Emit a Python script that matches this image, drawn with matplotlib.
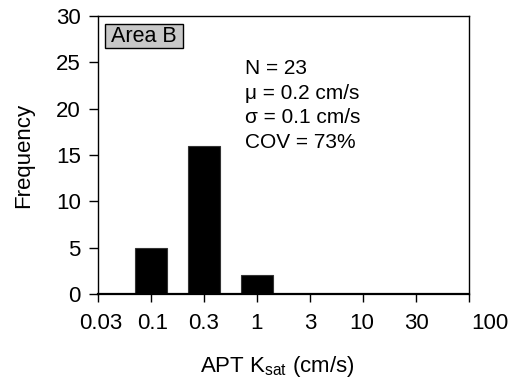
import numpy as np
import matplotlib
matplotlib.use('Agg')
import matplotlib.pyplot as plt
from matplotlib.patches import Rectangle
import matplotlib.transforms as mtransforms

# histogram data (APT Ksat, Area B)
binCenters = [0.1, 10**-0.5, 1.0]
counts = [5, 16, 2]
tickPos = 10**np.arange(-1.5, 2.01, 0.5)
tickLabels = ['0.03', '0.1', '0.3', '1', '3', '10', '30', '100']
statLines = ['N = 23', '\u03bc = 0.2 cm/s', '\u03c3 = 0.1 cm/s', 'COV = 73%']
areaName = 'Area B'

plt.rcParams['font.family'] = ['Liberation Sans', 'DejaVu Sans']
plt.rcParams['font.size'] = 16

fig = plt.figure(figsize=(5.14, 3.85), dpi=100)
ax = fig.add_axes([98/514, 1-294/385, 371/514, 278/385])

halfW = 0.155
lefts = [c * 10**-halfW for c in binCenters]
widths = [c * (10**halfW - 10**-halfW) for c in binCenters]
ax.bar(lefts, counts, width=widths, align='edge', color='black', edgecolor='#333333', linewidth=0.8)

ax.set_xscale('log')
ax.set_xlim(tickPos[0], tickPos[-1])
ax.set_ylim(0, 30)
ax.set_xticks(tickPos)
ax.set_xticklabels(tickLabels)
ax.minorticks_off()
ax.set_yticks(range(0, 31, 5))

ax.tick_params(axis='x', direction='out', length=6, width=1, pad=8, labelsize=16)
ax.tick_params(axis='y', direction='out', length=6.5, width=1, pad=6, labelsize=16)
for sp in ax.spines.values():
    sp.set_linewidth(1.0)
ax.spines['bottom'].set_linewidth(1.6)

# shift some tick labels like the original
shifts = {0: 3, 1: 1.5, 5: -1.5, 7: 21}
labs = ax.get_xticklabels()
for i, dx in shifts.items():
    labs[i].set_transform(labs[i].get_transform() + mtransforms.ScaledTranslation(dx/100, 0, fig.dpi_scale_trans))

ax.set_ylabel('Frequency', fontsize=16)
ax.yaxis.set_label_coords(-0.1725, 0.5)
ax.set_xlabel('APT K$_\\mathregular{sat}$ (cm/s)', fontsize=16)
ax.xaxis.set_label_coords(0.484, -0.216)

# "Area B" box
bx0 = (105 - 98) / 371
by0 = (294 - 48) / 278
ax.add_patch(Rectangle((bx0, by0), 78/371, 24/278, transform=ax.transAxes,
                       facecolor='#c8c8c8', edgecolor='black', linewidth=1.0, zorder=3))
ax.text(bx0 + 39/371, by0 + 12/278, areaName, transform=ax.transAxes,
        ha='center', va='center', fontsize=15.5, zorder=4)

for i, line in enumerate(statLines):
    ax.text(0.396, (294 - 74 - 24.7*i) / 278, line, transform=ax.transAxes,
            ha='left', va='baseline', fontsize=15)

fig.savefig('out.png', dpi=100)
